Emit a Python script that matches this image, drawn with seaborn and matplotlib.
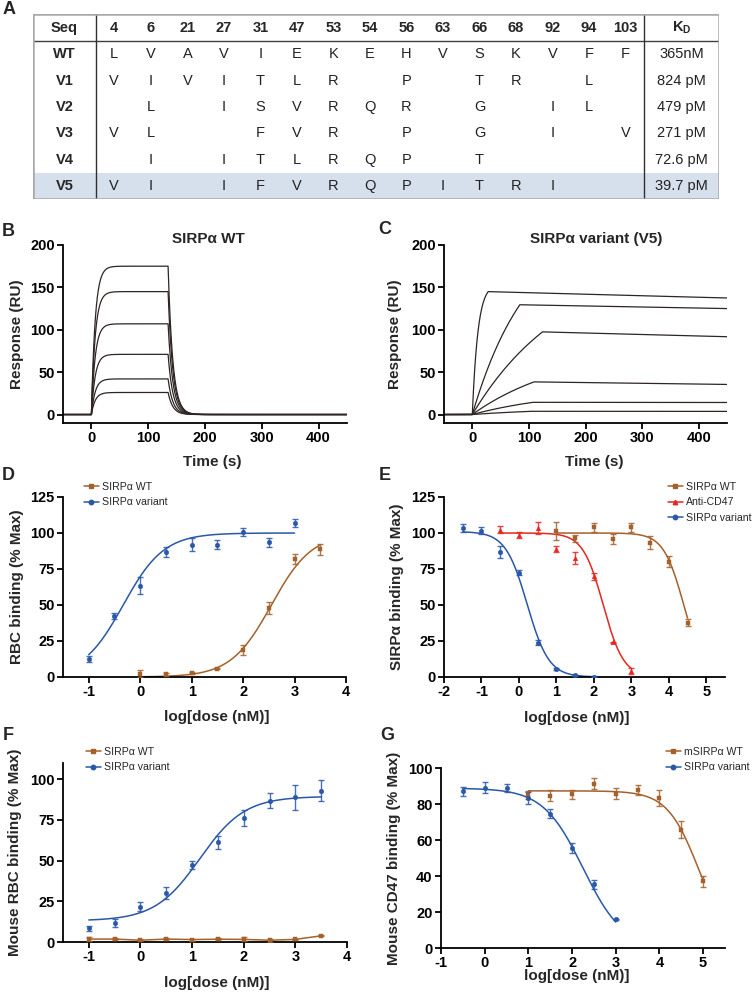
import numpy as np
import pandas as pd
import seaborn as sns
import matplotlib.pyplot as plt
from matplotlib.lines import Line2D
from matplotlib.patches import Rectangle

sns.set_theme(style="ticks")
plt.rcParams['font.family'] = ['Liberation Sans', 'DejaVu Sans']
plt.rcParams['axes.unicode_minus'] = False
plt.rcParams['mathtext.fontset'] = 'custom'
plt.rcParams['mathtext.rm'] = 'Liberation Sans'
plt.rcParams['mathtext.bf'] = 'Liberation Sans:bold'

BROWN = "#a4612b"
BLUE = "#2a57a8"
RED = "#e6261f"
SPR_COLOR = "#2e2424"

# ---------------- A: mutation table ----------------
positions = [4, 6, 21, 27, 31, 47, 53, 54, 56, 63, 66, 68, 92, 94, 103]
seq_names = ["WT", "V1", "V2", "V3", "V4", "V5"]
res_wt = "LVAVIEKEHVSKVFF"
res_v1 = "VIVITLR P TR L "
res_v2 = " L ISVRQR G IL "
res_v3 = "VL  FVR P G I V"
res_v4 = " I ITLRQP T    "
res_v5 = "VI IFVRQPITRI  "
kd_values = ["365nM", "824 pM", "479 pM", "271 pM", "72.6 pM", "39.7 pM"]

# ---------------- B/C: SPR sensorgrams ----------------
wt_plateaus = [175, 145, 107, 71, 42, 26]
wt_inject_end = 135      # s
wt_kon = 0.15            # 1/s observed
wt_koff = 0.12           # 1/s

v5_peak_time = [28, 84, 124, 109, 107, 104]
v5_peak_resp = [145, 129.5, 97.5, 38.5, 14.4, 3.8]
v5_end_resp = [137.5, 125, 91.8, 35.5, 14.2, 3.7]
v5_curvature = [0.1, 0.01, 0.006, 0.006, 0.006, 0.006]

# ---------------- D: RBC binding ----------------
d_var_x = [-1, -0.5, 0, 0.5, 1, 1.5, 2, 2.5, 3]
d_var_y = [12.5, 42.3, 63.5, 86.8, 92, 92, 101, 93.6, 106.9]
d_var_err = [2.1, 2, 5.6, 3.4, 4.4, 3.3, 2.8, 3.1, 2.6]
d_wt_x = [0, 0.5, 1, 1.5, 2, 2.5, 3, 3.5]
d_wt_y = [2.3, 1.9, 2.8, 5.8, 19, 48, 82, 88.8]
d_wt_err = [2.3, 1.2, 0.5, 0.5, 3.5, 4, 3.6, 3.8]
d_var_fit = [0, 100, -0.33, 1.1]       # bottom, top, logEC50, hill
d_wt_fit = [0, 100, 2.55, 1.1]

# ---------------- E: competition ----------------
e_var_x = [-1.5, -1, -0.5, 0, 0.5, 1, 1.5, 2]
e_var_y = [103.4, 101.5, 86.8, 72.5, 23.9, 5.8, 1.2, 0.2]
e_var_err = [3, 2.5, 4.4, 2, 2, 0.7, 0.5, 0.4]
e_ab_x = [-0.5, 0, 0.5, 1, 1.5, 2, 2.5, 3]
e_ab_y = [102.2, 98.7, 103.4, 89, 82.5, 70, 24, 4.2]
e_ab_err = [2.5, 2, 4, 2, 4, 2.5, 0.5, 2]
e_wt_x = [1, 1.5, 2, 2.5, 3, 3.5, 4, 4.5]
e_wt_y = [101.2, 96.4, 103.9, 95.6, 104, 93.4, 80.2, 37.8]
e_wt_err = [6.4, 2.5, 3, 3.5, 3, 4.5, 3.5, 2.3]
e_var_fit = [0, 101, 0.22, -1.5]
e_ab_fit = [0, 100, 2.25, -1.6]
e_wt_fit = [0, 100, 4.4, -1.6]

# ---------------- F: mouse RBC binding ----------------
f_x = [-1, -0.5, 0, 0.5, 1, 1.5, 2, 2.5, 3, 3.5]
f_var_y = [8.4, 11.8, 21.8, 30.2, 47.2, 61.4, 76, 86.8, 88.8, 93]
f_var_err = [1.5, 2.5, 2.7, 3.9, 2.6, 4, 5, 4.5, 7.8, 6.5]
f_wt_y = [1.8, 1.8, 1.1, 1.8, 1.5, 1.7, 1.6, 1.1, 1.6, 3.8]
f_wt_err = [1.2, 0.6, 0.6, 0.6, 0.6, 0.6, 1.2, 1, 0.5, 0.4]
f_var_fit = [13, 89.5, 1.15, 1.0]

# ---------------- G: mouse CD47 competition ----------------
g_var_x = [-0.5, 0, 0.5, 1, 1.5, 2, 2.5, 3]
g_var_y = [87, 89, 89, 83.3, 74.6, 55.6, 35.4, 15.9]
g_var_err = [2.6, 3, 2.2, 3.5, 2.5, 3, 2.6, 0.4]
g_wt_x = [1, 1.5, 2, 2.5, 3, 3.5, 4, 4.5, 5]
g_wt_y = [85.2, 84.6, 85.4, 91.3, 85.7, 87.8, 83.5, 65.8, 37]
g_wt_err = [2.2, 3, 2.6, 3, 3, 3, 4.5, 4.5, 3]
g_var_fit = [0, 88.8, 2.25, -0.95]
g_wt_fit = [0, 87.3, 4.9, -1.2]

W, H = 754, 992
fig = plt.figure(figsize=(W / 100, H / 100), dpi=100)


def add_ax(x0, y0, x1, y1):
    return fig.add_axes([x0 / W, 1 - y1 / H, (x1 - x0) / W, (y1 - y0) / H])


def panel_letter(x, y, s):
    fig.text(x / W, 1 - y / H, s, ha='center', va='center', fontsize=13, fontweight='bold')


def style(ax, ylab, xlab, ylab_x, xlab_pos):
    sns.despine(ax=ax)
    for sp in ['left', 'bottom']:
        ax.spines[sp].set_linewidth(1.3)
        ax.spines[sp].set_color('black')
    ax.tick_params(direction='out', length=4, width=1.3, labelsize=10.5, pad=2, colors='black')
    for lab in ax.get_xticklabels() + ax.get_yticklabels():
        lab.set_fontweight('bold')
    ax.set_ylabel(ylab, fontsize=11, fontweight='bold', va='center')
    ax.yaxis.set_label_coords(ylab_x, 0.5)
    ax.set_xlabel(xlab, fontsize=11, fontweight='bold', va='center')
    ax.xaxis.set_label_coords(*xlab_pos)
    ax.set_facecolor('white')


def four_pl(x, p):
    bottom, top, mid, hill = p
    return bottom + (top - bottom) / (1 + 10 ** ((mid - x) * hill))


def fit_line(ax, xs, p, color):
    xx = np.linspace(min(xs), max(xs), 300)
    sns.lineplot(x=xx, y=four_pl(xx, p), color=color, lw=1.1, ax=ax)


def points(ax, xs, ys, errs, color, marker):
    ax.errorbar(xs, ys, yerr=errs, fmt='none', ecolor=color, elinewidth=1.0,
                capsize=2.5, capthick=1.0, alpha=0.85, zorder=3)
    sns.scatterplot(x=xs, y=ys, color=color, marker=marker, s=11, edgecolor=color,
                    linewidth=0.3, ax=ax, zorder=4)


def legend(ax, entries, x, y):
    handles = [Line2D([0], [0], color=c, marker=m, ms=3.2, lw=1.1) for _, c, m in entries]
    ax.legend(handles, [e[0] for e in entries], loc='upper left',
              bbox_to_anchor=(x / W, 1 - y / H), bbox_transform=fig.transFigure,
              frameon=False, fontsize=7.6, handlelength=1.4, handletextpad=0.3,
              labelspacing=0.5, borderpad=0, borderaxespad=0)


# ---------------- A ----------------
panel_letter(9, 9, 'A')
seq_w, pos_w, kd_w = 63, 36.5, 75
head_h, row_h = 27, 26.3
tw = seq_w + pos_w * len(positions) + kd_w
th = head_h + row_h * len(seq_names)
axt = add_ax(33, 14, 719, 199)
axt.set_xlim(0, tw)
axt.set_ylim(th, 0)
axt.axis('off')
rows = [res_wt, res_v1, res_v2, res_v3, res_v4, res_v5]
axt.add_patch(Rectangle((0, head_h + row_h * 5), tw, row_h, color='#d6dfec', lw=0, zorder=0))
axt.add_patch(Rectangle((0, 0), tw, th, fill=False, edgecolor='#a8a8a8', lw=1.8, zorder=3))
axt.plot([0, tw], [head_h, head_h], color='#404040', lw=1.0)
for xv in [seq_w, seq_w + pos_w * len(positions)]:
    axt.plot([xv, xv], [0, th], color='#303030', lw=1.0)
hy = head_h / 2
axt.text(seq_w / 2, hy, 'Seq', ha='center', va='center', fontsize=10.5, fontweight='bold')
for j, p in enumerate(positions):
    axt.text(seq_w + pos_w * (j + 0.5), hy, str(p), ha='center', va='center',
             fontsize=10.5, fontweight='bold')
axt.text(tw - kd_w / 2, hy, r'$\mathbf{K_D}$', ha='center', va='center', fontsize=10.5)
for i, name in enumerate(seq_names):
    yy = head_h + row_h * (i + 0.5)
    axt.text(seq_w / 2, yy, name, ha='center', va='center', fontsize=10.5, fontweight='bold')
    for j, r in enumerate(rows[i]):
        if r.strip():
            axt.text(seq_w + pos_w * (j + 0.5), yy, r, ha='center', va='center',
                     fontsize=10.5, color='#222222')
    axt.text(tw - kd_w / 2, yy, kd_values[i], ha='center', va='center',
             fontsize=10.5, color='#222222')

# ---------------- B ----------------
t = np.linspace(-50, 450, 2001)
frames = []
for k, pl in enumerate(wt_plateaus):
    r = np.zeros_like(t)
    a = (t >= 0) & (t <= wt_inject_end)
    r[a] = pl * (1 - np.exp(-wt_kon * t[a]))
    r_end = pl * (1 - np.exp(-wt_kon * wt_inject_end))
    d = t > wt_inject_end
    r[d] = r_end * np.exp(-wt_koff * (t[d] - wt_inject_end))
    frames.append(pd.DataFrame({'time': t, 'resp': r, 'curve': k}))
df_b = pd.concat(frames)

axb = add_ax(63, 245, 347, 423)
sns.lineplot(data=df_b, x='time', y='resp', units='curve', estimator=None,
             color=SPR_COLOR, lw=0.9, ax=axb)
axb.set_xlim(-50, 450)
axb.set_ylim(-10, 200)
axb.set_xticks([0, 100, 200, 300, 400])
axb.set_yticks([0, 50, 100, 150, 200])
style(axb, 'Response (RU)', 'Time (s)', -0.162, (0.525, -0.219))
fig.text(208 / W, 1 - 239 / H, 'SIRPα WT', ha='center', va='center', fontsize=11, fontweight='bold')
panel_letter(8, 231, 'B')

# ---------------- C ----------------
frames = []
for k in range(len(v5_peak_time)):
    T, pk, en, kc = v5_peak_time[k], v5_peak_resp[k], v5_end_resp[k], v5_curvature[k]
    r = np.zeros_like(t)
    a = (t >= 0) & (t <= T)
    r[a] = pk * (1 - np.exp(-kc * t[a])) / (1 - np.exp(-kc * T))
    kd = np.log(pk / en) / (450 - T)
    d = t > T
    r[d] = pk * np.exp(-kd * (t[d] - T))
    frames.append(pd.DataFrame({'time': t, 'resp': r, 'curve': k}))
df_c = pd.concat(frames)

axc = add_ax(444, 245, 727, 423)
sns.lineplot(data=df_c, x='time', y='resp', units='curve', estimator=None,
             color=SPR_COLOR, lw=0.9, ax=axc)
axc.set_xlim(-50, 450)
axc.set_ylim(-10, 200)
axc.set_xticks([0, 100, 200, 300, 400])
axc.set_yticks([0, 50, 100, 150, 200])
style(axc, 'Response (RU)', 'Time (s)', -0.173, (0.53, -0.219))
fig.text(596 / W, 1 - 239 / H, 'SIRPα variant (V5)', ha='center', va='center',
         fontsize=11, fontweight='bold')
panel_letter(385, 230, 'C')

# ---------------- D ----------------
axd = add_ax(63, 497, 346, 677)
fit_line(axd, d_wt_x, d_wt_fit, BROWN)
fit_line(axd, d_var_x, d_var_fit, BLUE)
points(axd, d_wt_x, d_wt_y, d_wt_err, BROWN, 's')
points(axd, d_var_x, d_var_y, d_var_err, BLUE, 'o')
axd.set_xlim(-1.5, 4)
axd.set_ylim(0, 125)
axd.set_xticks([-1, 0, 1, 2, 3, 4])
axd.set_yticks([0, 25, 50, 75, 100, 125])
style(axd, 'RBC binding (% Max)', 'log[dose (nM)]', -0.162, (0.543, -0.222))
legend(axd, [('SIRPα WT', BROWN, 's'), ('SIRPα variant', BLUE, 'o')], 84, 482)
panel_letter(8, 476, 'D')

# ---------------- E ----------------
axe = add_ax(444, 497, 725, 677)
fit_line(axe, e_wt_x, e_wt_fit, BROWN)
fit_line(axe, e_ab_x, e_ab_fit, RED)
fit_line(axe, e_var_x, e_var_fit, BLUE)
points(axe, e_wt_x, e_wt_y, e_wt_err, BROWN, 's')
points(axe, e_ab_x, e_ab_y, e_ab_err, RED, '^')
points(axe, e_var_x, e_var_y, e_var_err, BLUE, 'o')
axe.set_xlim(-2, 5.5)
axe.set_ylim(0, 125)
axe.set_xticks([-2, -1, 0, 1, 2, 3, 4, 5])
axe.set_yticks([0, 25, 50, 75, 100, 125])
style(axe, 'SIRPα binding (% Max)', 'log[dose (nM)]', -0.167, (0.473, -0.228))
legend(axe, [('SIRPα WT', BROWN, 's'), ('Anti-CD47', RED, '^'),
             ('SIRPα variant', BLUE, 'o')], 668, 482)
panel_letter(385, 476, 'E')

# ---------------- F ----------------
axf = add_ax(63, 763, 347, 942)
sns.lineplot(x=f_x, y=f_wt_y, color=BROWN, lw=1.1, ax=axf)
fit_line(axf, f_x, f_var_fit, BLUE)
points(axf, f_x, f_wt_y, f_wt_err, BROWN, 's')
points(axf, f_x, f_var_y, f_var_err, BLUE, 'o')
axf.set_xlim(-1.5, 4)
axf.set_ylim(0, 110)
axf.set_xticks([-1, 0, 1, 2, 3, 4])
axf.set_yticks([0, 25, 50, 75, 100])
style(axf, 'Mouse RBC binding (% Max)', 'log[dose (nM)]', -0.169, (0.54, -0.229))
legend(axf, [('SIRPα WT', BROWN, 's'), ('SIRPα variant', BLUE, 'o')], 86, 747)
panel_letter(8, 735, 'F')

# ---------------- G ----------------
axg = add_ax(441, 768, 725, 948)
fit_line(axg, g_wt_x, g_wt_fit, BROWN)
fit_line(axg, g_var_x, g_var_fit, BLUE)
points(axg, g_wt_x, g_wt_y, g_wt_err, BROWN, 's')
points(axg, g_var_x, g_var_y, g_var_err, BLUE, 'o')
axg.set_xlim(-1, 5.5)
axg.set_ylim(0, 100)
axg.set_xticks([-1, 0, 1, 2, 3, 4, 5])
axg.set_yticks([0, 20, 40, 60, 80, 100])
style(axg, 'Mouse CD47 binding (% Max)', 'log[dose (nM)]', -0.165, (0.479, -0.156))
legend(axg, [('mSIRPα WT', BROWN, 's'), ('SIRPα variant', BLUE, 'o')], 666, 747)
panel_letter(387, 736, 'G')

fig.savefig("out.png", dpi=100, facecolor='white')
